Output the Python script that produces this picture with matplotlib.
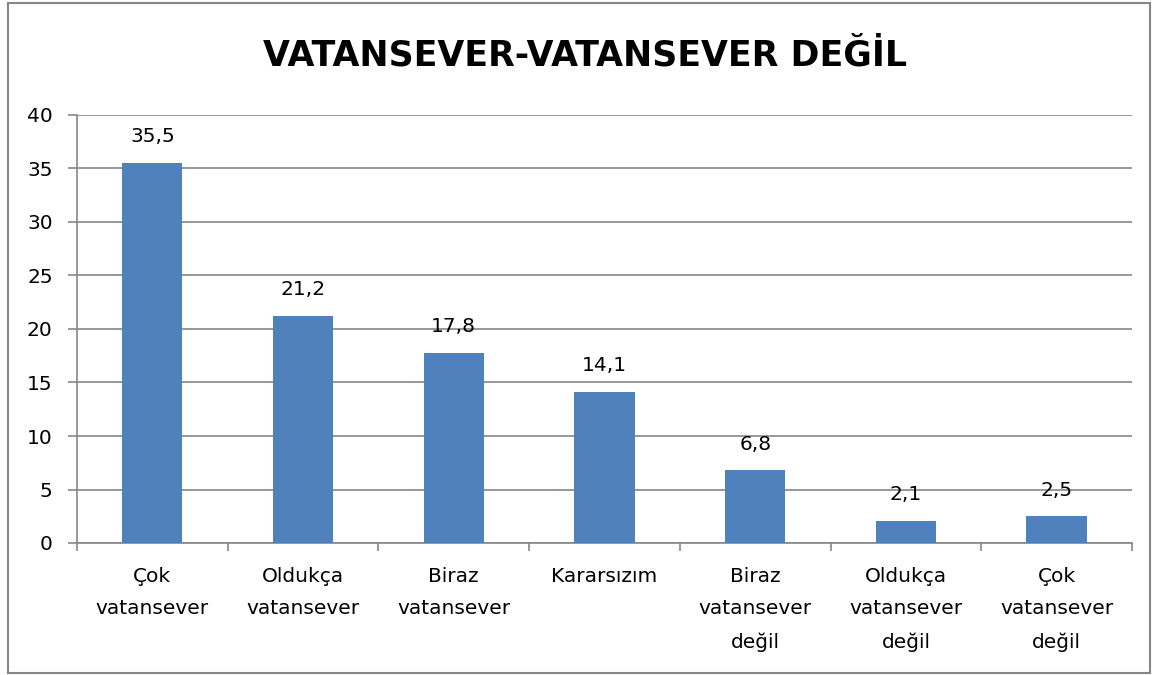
import matplotlib
matplotlib.use("Agg")
import matplotlib.pyplot as plt
from matplotlib.patches import Rectangle
from matplotlib.ticker import FixedLocator

# data ------------
categories = ["Çok\nvatansever", "Oldukça\nvatansever", "Biraz\nvatansever", "Kararsızım",
              "Biraz\nvatansever\ndeğil", "Oldukça\nvatansever\ndeğil", "Çok\nvatansever\ndeğil"]
values = [35.5, 21.2, 17.8, 14.1, 6.8, 2.1, 2.5]
value_labels = ["35,5", "21,2", "17,8", "14,1", "6,8", "2,1", "2,5"]
y_ticks = [0, 5, 10, 15, 20, 25, 30, 35, 40]

plt.rcParams["font.family"] = ["DejaVu Sans"]

BAR_COLOR = "#4F81BD"
GRID_COLOR = "#868686"
FS = 14.5

fig = plt.figure(figsize=(11.58, 6.75), dpi=100)
ax = fig.add_axes([77 / 1158, 132 / 675, 1055 / 1158, 428 / 675])

x = list(range(len(categories)))
ax.bar(x, values, width=0.4, color=BAR_COLOR, zorder=3)
for xi, v, lab in zip(x, values, value_labels):
    ax.annotate(lab, (xi, v), xytext=(0, 12), textcoords="offset points",
                ha="center", va="bottom", fontsize=FS)

ax.set_xlim(-0.5, len(categories) - 0.5)
ax.set_ylim(0, 40)
ax.set_yticks(y_ticks)
ax.yaxis.grid(True, color=GRID_COLOR, linewidth=1.2, zorder=0)
ax.set_axisbelow(True)

ax.set_xticks(x)
ax.set_xticklabels(categories, fontsize=FS, linespacing=1.9)
ax.xaxis.set_minor_locator(FixedLocator([i - 0.5 for i in range(len(categories) + 1)]))
ax.tick_params(axis="x", which="major", length=0, pad=17)
ax.tick_params(axis="x", which="minor", length=6, width=1.2, color=GRID_COLOR, direction="out")
ax.tick_params(axis="y", length=6.5, width=1.2, color=GRID_COLOR, labelsize=FS, pad=11)

for side in ["top", "right"]:
    ax.spines[side].set_visible(False)
for side in ["left", "bottom"]:
    ax.spines[side].set_color(GRID_COLOR)
    ax.spines[side].set_linewidth(1.2)

fig.text(585 / 1158, 1 - 56 / 675, "VATANSEVER-VATANSEVER DEĞİL", ha="center", va="center",
         fontsize=25, fontweight="bold")

# outer chart border
fig.patches.append(Rectangle((8 / 1158, 2 / 675), 1142 / 1158, 670 / 675, transform=fig.transFigure,
                             fill=False, edgecolor=GRID_COLOR, linewidth=1.5))

fig.savefig("out.png", dpi=100)
